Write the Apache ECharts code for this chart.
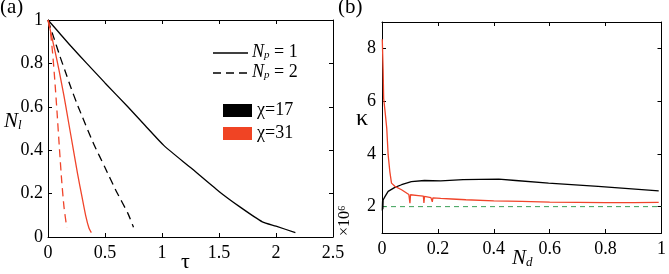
<!DOCTYPE html>
<html>
<head>
<meta charset="utf-8">
<script src="https://cdn.jsdelivr.net/npm/echarts@6/dist/echarts.min.js"></script>
<style>
  html, body { margin: 0; padding: 0; background: #fff; }
  #chart { width: 669px; height: 274px; }
</style>
</head>
<body>
<div id="chart"></div>
<script>
// (a) N_l vs tau
var tauSolid17 = [0, 0.1, 0.2, 0.34, 0.5, 0.7, 0.85, 1.02, 1.25, 1.5, 1.68, 1.88, 2.0, 2.17];
var nSolid17   = [1, 0.94, 0.88, 0.8, 0.71, 0.6, 0.515, 0.42, 0.32, 0.21, 0.14, 0.07, 0.05, 0.02];
var tauDash17  = [0, 0.05, 0.1, 0.15, 0.2, 0.25, 0.3, 0.4, 0.5, 0.6, 0.7, 0.75];
var nDash17    = [1, 0.92, 0.84, 0.765, 0.69, 0.62, 0.555, 0.43, 0.32, 0.21, 0.11, 0.045];
var tauSolid31 = [0, 0.03, 0.06, 0.1, 0.14, 0.18, 0.22, 0.26, 0.3, 0.33, 0.36, 0.38];
var nSolid31   = [1, 0.93, 0.86, 0.76, 0.65, 0.53, 0.41, 0.29, 0.18, 0.1, 0.04, 0.02];
var tauDash31  = [0, 0.02, 0.04, 0.06, 0.08, 0.1, 0.12, 0.14, 0.164];
var nDash31    = [1, 0.95, 0.85, 0.72, 0.57, 0.41, 0.26, 0.14, 0.045];
var tauTicks = [0, 0.5, 1, 1.5, 2, 2.5];
var nTicks = [0, 0.2, 0.4, 0.6, 0.8, 1];

// (b) kappa vs N_d
var ndBlack = [0.001, 0.002, 0.003, 0.004, 0.006, 0.011, 0.022, 0.046, 0.07, 0.105, 0.152, 0.21, 0.29, 0.35, 0.418, 0.478, 0.596, 0.773, 0.99];
var kBlack  = [1.85, 2.2, 1.9, 2.25, 2.3, 2.39, 2.58, 2.73, 2.83, 2.95, 2.99, 2.98, 3.02, 3.03, 3.04, 2.99, 2.89, 2.77, 2.6];
var ndRed = [0.001, 0.004, 0.006, 0.011, 0.017, 0.022, 0.028, 0.034, 0.046, 0.07, 0.096, 0.098, 0.1, 0.102, 0.13, 0.148, 0.15, 0.152, 0.175, 0.178, 0.18, 0.182, 0.21, 0.25, 0.3, 0.4, 0.5, 0.6, 0.7, 0.8, 0.9, 0.99];
var kRed  = [8.35, 7.2, 6.1, 5.6, 4.97, 3.96, 3.33, 2.89, 2.77, 2.64, 2.46, 2.45, 2.13, 2.45, 2.42, 2.4, 2.14, 2.39, 2.34, 2.33, 2.18, 2.33, 2.31, 2.29, 2.26, 2.22, 2.2, 2.17, 2.16, 2.15, 2.15, 2.16];
var ndRef = [0, 1];
var kRef = 2;
var ndTicks = [0, 0.2, 0.4, 0.6, 0.8, 1];
var kTicks = [2, 4, 6, 8];

var RED = '#f0442a';
var FONT = '"Liberation Serif", serif';

function pairs(xs, ys) {
    var out = [];
    for (var i = 0; i < xs.length; i++) {
        out.push([xs[i], Array.isArray(ys) ? ys[i] : ys]);
    }
    return out;
}

function numFmt(v) {
    return String(Math.round(v * 100) / 100);
}

// 坐标轴 (MATLAB 风格, 刻度朝内)
function makeAxis(gridIndex, position, min, max, ticks, showLabel, margin) {
    return {
        type: 'value',
        gridIndex: gridIndex,
        position: position,
        min: min,
        max: max,
        axisLine: { show: true, onZero: false, lineStyle: { color: '#000', width: 1 } },
        axisTick: { show: true, inside: true, length: 4, customValues: ticks, lineStyle: { color: '#000' } },
        axisLabel: {
            show: showLabel,
            customValues: ticks,
            formatter: numFmt,
            fontFamily: FONT,
            fontSize: 18,
            color: '#000',
            margin: margin || 6
        },
        splitLine: { show: false }
    };
}

function lineSeries(xi, yi, data, color, dashed, smooth) {
    return {
        type: 'line',
        xAxisIndex: xi,
        yAxisIndex: yi,
        data: data,
        showSymbol: false,
        symbol: 'none',
        smooth: smooth || false,
        animation: false,
        lineStyle: { color: color, width: 1.3, type: dashed ? [8, 5] : 'solid' }
    };
}

var chart = echarts.init(document.getElementById('chart'));
var option = {
    animation: false,
    grid: [
        { left: 48, top: 20, width: 285, height: 217 },
        { left: 382, top: 22, width: 282, height: 211 }
    ],
    xAxis: [
        makeAxis(0, 'bottom', 0, 2.5, tauTicks, true, 7),
        makeAxis(0, 'top', 0, 2.5, tauTicks, false),
        makeAxis(1, 'bottom', 0, 1, ndTicks, true, 7),
        makeAxis(1, 'top', 0, 1, ndTicks, false)
    ],
    yAxis: [
        makeAxis(0, 'left', 0, 1, nTicks, true, 5),
        makeAxis(0, 'right', 0, 1, nTicks, false),
        makeAxis(1, 'left', 1, 9, kTicks, true, 6),
        makeAxis(1, 'right', 1, 9, kTicks, false)
    ],
    series: [
        lineSeries(0, 0, pairs(tauSolid17, nSolid17), '#000', false, 0.2),
        lineSeries(0, 0, pairs(tauDash17, nDash17), '#000', true, 0.2),
        lineSeries(0, 0, pairs(tauSolid31, nSolid31), RED, false, 0.2),
        lineSeries(0, 0, pairs(tauDash31, nDash31), RED, true, 0.2),
        {
            type: 'line', xAxisIndex: 2, yAxisIndex: 2, data: pairs(ndRef, kRef),
            symbol: 'none', lineStyle: { color: '#3a9f56', width: 1, type: [5, 4] }
        },
        lineSeries(2, 2, pairs(ndBlack, kBlack), '#000', false),
        lineSeries(2, 2, pairs(ndRed, kRed), RED, false)
    ],
    graphic: [
        { type: 'text', left: 0, top: -3, style: { text: '(a)', font: '21px ' + FONT, fill: '#000' } },
        { type: 'text', left: 338, top: -3, style: { text: '(b)', font: '21px ' + FONT, fill: '#000' } },
        { type: 'text', left: 181, top: 251, style: { text: 'τ', font: '22px ' + FONT, fill: '#000' } },
        {
            type: 'text', left: 4, top: 111,
            style: {
                text: '{n|N}{s|l}', fill: '#000',
                rich: {
                    n: { fontFamily: FONT, fontStyle: 'italic', fontSize: 21 },
                    s: { fontFamily: FONT, fontStyle: 'italic', fontSize: 13, verticalAlign: 'bottom', padding: [9, 0, 0, 0] }
                }
            }
        },
        { type: 'text', left: 356, top: 107, style: { text: 'κ', font: '24px ' + FONT, fill: '#000' } },
        {
            type: 'text', left: 512, top: 248,
            style: {
                text: '{n|N}{s|d}', fill: '#000',
                rich: {
                    n: { fontFamily: FONT, fontStyle: 'italic', fontSize: 21 },
                    s: { fontFamily: FONT, fontStyle: 'italic', fontSize: 13, verticalAlign: 'bottom', padding: [9, 0, 0, 0] }
                }
            }
        },
        {
            type: 'text', x: 337, y: 236, rotation: Math.PI / 2,
            style: { text: '×10⁶', font: '16px ' + FONT, fill: '#000' }
        },
        // 图例
        { type: 'line', shape: { x1: 213, y1: 53, x2: 248, y2: 53 }, style: { stroke: '#000', lineWidth: 1.3 } },
        { type: 'line', shape: { x1: 213, y1: 73, x2: 250, y2: 73 }, style: { stroke: '#000', lineWidth: 1.3, lineDash: [8, 5] } },
        {
            type: 'text', left: 252, top: 43,
            style: {
                text: '{n|N}{s|p}{t| = 1}', fill: '#000',
                rich: {
                    n: { fontFamily: FONT, fontStyle: 'italic', fontSize: 18 },
                    s: { fontFamily: FONT, fontStyle: 'italic', fontSize: 11, verticalAlign: 'bottom', padding: [7, 0, 0, 0] },
                    t: { fontFamily: FONT, fontSize: 18 }
                }
            }
        },
        {
            type: 'text', left: 252, top: 63,
            style: {
                text: '{n|N}{s|p}{t| = 2}', fill: '#000',
                rich: {
                    n: { fontFamily: FONT, fontStyle: 'italic', fontSize: 18 },
                    s: { fontFamily: FONT, fontStyle: 'italic', fontSize: 11, verticalAlign: 'bottom', padding: [7, 0, 0, 0] },
                    t: { fontFamily: FONT, fontSize: 18 }
                }
            }
        },
        { type: 'rect', shape: { x: 223, y: 104, width: 29, height: 13 }, style: { fill: '#000' } },
        { type: 'rect', shape: { x: 223, y: 127, width: 29, height: 13 }, style: { fill: '#f04424' } },
        { type: 'text', left: 257, top: 101, style: { text: 'χ=17', font: '18px ' + FONT, fill: '#000' } },
        { type: 'text', left: 257, top: 124, style: { text: 'χ=31', font: '18px ' + FONT, fill: '#000' } }
    ]
};
chart.setOption(option);
</script>
</body>
</html>
